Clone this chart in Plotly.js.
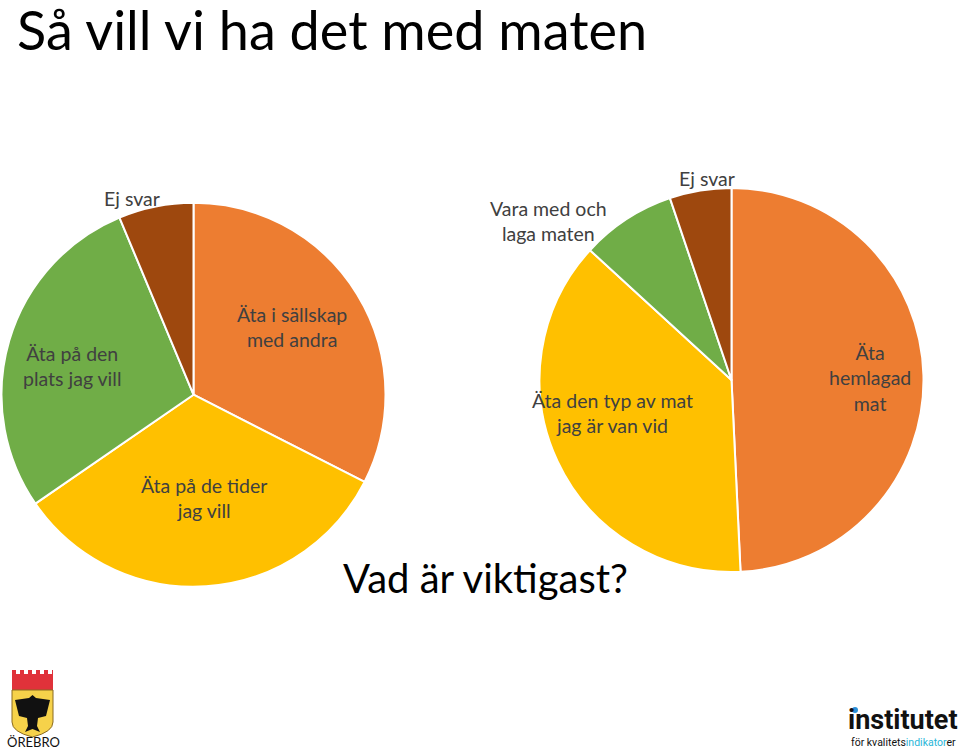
<!DOCTYPE html>
<html>
<head>
<meta charset="utf-8">
<script src="https://cdn.plot.ly/plotly-3.0.1.min.js"></script>
<style>html,body{margin:0;padding:0;background:#fff;}#chart{width:960px;height:750px;}</style>
</head>
<body>
<div id="chart"></div>
<script>
// ---- data ----
const leftCategories = ["Äta i sällskap med andra", "Äta på de tider jag vill", "Äta på den plats jag vill", "Ej svar"];
const leftValues = [32.5, 32.9, 28.3, 6.3];
const rightCategories = ["Äta hemlagad mat", "Äta den typ av mat jag är van vid", "Vara med och laga maten", "Ej svar"];
const rightValues = [49.3, 37.6, 8.0, 5.2];
const sliceColors = ["#ED7D31", "#FFC000", "#70AD47", "#9E480E"];
const titleText = "Så vill vi ha det med maten";
const subtitleText = "Vad är viktigast?";

// ---- layout helpers (pixel -> paper) ----
const W = 960, H = 750;
const px = x => x / W;
const py = y => 1 - y / H;

// wrapped label display (line-break positions only)
const leftWrap = ["Äta i sällskap<br>med andra", "Äta på de tider<br>jag vill", "Äta på den<br>plats jag vill", "Ej svar"];
const rightWrap = ["Äta<br>hemlagad<br>mat", "Äta den typ av mat<br>jag är van vid", "Vara med och<br>laga maten", "Ej svar"];
const leftLabelPos = [[292, 327], [204, 498], [72, 366], [132, 198]];
const rightLabelPos = [[870, 378], [612, 413], [548, 221], [707, 178]];

const labelFont = {family: "Lato, 'Open Sans', sans-serif", size: 19.5, color: "#404040"};

function pie(values, cats, cx, cy, r) {
  return {
    type: "pie",
    values: values,
    labels: cats,
    sort: false,
    direction: "clockwise",
    rotation: 0,
    textinfo: "none",
    hoverinfo: "label+value",
    marker: {colors: sliceColors, line: {color: "#ffffff", width: 2}},
    domain: {x: [px(cx - r), px(cx + r)], y: [py(cy + r), py(cy - r)]},
    showlegend: false
  };
}

const data = [
  pie(leftValues, leftCategories, 193.5, 394.7, 192),
  pie(rightValues, rightCategories, 731.5, 380, 192)
];

const annotations = [];
leftWrap.forEach((t, i) => annotations.push({
  text: t, x: px(leftLabelPos[i][0]), y: py(leftLabelPos[i][1]), xref: "paper", yref: "paper",
  showarrow: false, xanchor: "center", yanchor: "middle", font: labelFont, align: "center"
}));
rightWrap.forEach((t, i) => annotations.push({
  text: t, x: px(rightLabelPos[i][0]), y: py(rightLabelPos[i][1]), xref: "paper", yref: "paper",
  showarrow: false, xanchor: "center", yanchor: "middle", font: labelFont, align: "center"
}));
annotations.push({
  text: subtitleText, x: px(485), y: py(578), xref: "paper", yref: "paper", showarrow: false,
  xanchor: "center", yanchor: "middle", font: {family: "Lato, 'Open Sans', sans-serif", size: 40, color: "#000"}
});
// logos as text
annotations.push({
  text: "ÖREBRO", x: px(33), y: py(742), xref: "paper", yref: "paper", showarrow: false,
  xanchor: "center", yanchor: "middle", font: {family: "Lato, sans-serif", size: 13, color: "#111"}
});
annotations.push({
  text: "<b>institutet</b>", x: px(903), y: py(720), xref: "paper", yref: "paper", showarrow: false,
  xanchor: "center", yanchor: "middle", font: {family: "'Liberation Sans Narrow', Roboto, sans-serif", size: 27, color: "#111"}
});
annotations.push({
  text: "för kvalitets<span style='color:#29B6D8'>indikator</span>er", x: px(903), y: py(742), xref: "paper", yref: "paper", showarrow: false,
  xanchor: "center", yanchor: "middle", font: {family: "'Liberation Sans Narrow', Roboto, sans-serif", size: 10.5, color: "#111"}
});

const shapes = [
  // Örebro crest: red battlement
  {type: "path", xref: "paper", yref: "paper", fillcolor: "#E0323A", line: {width: 0},
   path: `M ${px(12)} ${py(690)} L ${px(12)} ${py(670)} L ${px(16)} ${py(670)} L ${px(16)} ${py(674)} L ${px(20)} ${py(674)} L ${px(20)} ${py(670)} L ${px(24)} ${py(670)} L ${px(24)} ${py(674)} L ${px(28)} ${py(674)} L ${px(28)} ${py(670)} L ${px(32)} ${py(670)} L ${px(32)} ${py(674)} L ${px(36)} ${py(674)} L ${px(36)} ${py(670)} L ${px(40)} ${py(670)} L ${px(40)} ${py(674)} L ${px(44)} ${py(674)} L ${px(44)} ${py(670)} L ${px(48)} ${py(670)} L ${px(48)} ${py(674)} L ${px(52)} ${py(674)} L ${px(52)} ${py(670)} L ${px(53)} ${py(670)} L ${px(53)} ${py(690)} Z`},
  // yellow shield
  {type: "path", xref: "paper", yref: "paper", fillcolor: "#F6D24A", line: {color: "#8a6a20", width: 1},
   path: `M ${px(12)} ${py(690)} L ${px(53)} ${py(690)} L ${px(53)} ${py(722)} Q ${px(53)} ${py(732)} ${px(32.5)} ${py(737)} Q ${px(12)} ${py(732)} ${px(12)} ${py(722)} Z`},
  // eagle (rough silhouette)
  {type: "path", xref: "paper", yref: "paper", fillcolor: "#111", line: {width: 0},
   path: `M ${px(32.5)} ${py(695)} L ${px(36)} ${py(698)} L ${px(50)} ${py(700)} L ${px(46)} ${py(716)} L ${px(38)} ${py(718)} L ${px(37)} ${py(726)} L ${px(40)} ${py(732)} L ${px(32.5)} ${py(729)} L ${px(25)} ${py(732)} L ${px(28)} ${py(726)} L ${px(27)} ${py(718)} L ${px(19)} ${py(716)} L ${px(15)} ${py(700)} L ${px(29)} ${py(698)} Z`},
  // blue dot on institutet
  {type: "circle", xref: "paper", yref: "paper", fillcolor: "#2A8FD6", line: {width: 0},
   x0: px(852), x1: px(858), y0: py(713), y1: py(707)}
];

const layout = {
  width: W, height: H,
  margin: {l: 0, r: 0, t: 0, b: 0},
  paper_bgcolor: "#ffffff",
  plot_bgcolor: "#ffffff",
  title: {
    text: titleText, x: px(17), xanchor: "left", xref: "paper",
    y: py(31), yanchor: "middle", yref: "paper",
    font: {family: "Lato, 'Open Sans', sans-serif", size: 54, color: "#000"}
  },
  annotations: annotations,
  shapes: shapes
};

Plotly.newPlot("chart", data, layout, {staticPlot: true, displayModeBar: false});
</script>
</body>
</html>
